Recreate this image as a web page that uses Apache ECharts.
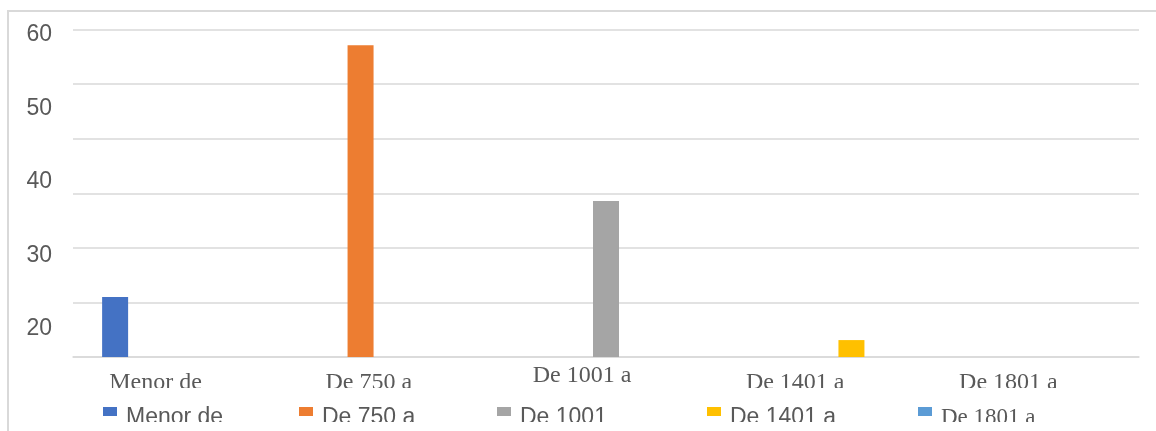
<!DOCTYPE html>
<html>
<head>
<meta charset="utf-8">
<script src="https://cdn.jsdelivr.net/npm/echarts@6/dist/echarts.min.js"></script>
<style>
  html, body { margin: 0; padding: 0; background: #ffffff; }
  #wrap { position: relative; width: 1156px; height: 431px; overflow: hidden; background: #ffffff; }
  #frame { position: absolute; left: 7px; top: 10px; width: 1160px; height: 440px;
           border-top: 2px solid #D9D9D9; border-left: 2px solid #D9D9D9; box-sizing: border-box; }
  #plot { position: absolute; left: 0; top: 0; width: 1156px; height: 388px; }
  #legendArea { position: absolute; left: 0; top: 0; width: 1156px; height: 422px; pointer-events: none; }
</style>
</head>
<body>
<div id="wrap">
  <div id="frame"></div>
  <div id="plot"></div>
  <div id="legendArea"></div>
</div>
<script>
// ---- data ----
const categories = ['Menor de', 'De 750 a', 'De 1001 a', 'De 1401 a', 'De 1801 a'];
const seriesNames = ['Menor de', 'De 750 a', 'De 1001', 'De 1401 a', 'De 1801 a'];
const seriesValues = [11.0, 57.1, 28.6, 3.1, 0];
const gridTicks = [0, 10, 20, 30, 40, 50, 60];
const yTickLabels = [20, 30, 40, 50, 60];

// ---- styling ----
const palette = ['#4472C4', '#ED7D31', '#A5A5A5', '#FFC000', '#5B9BD5'];
const gridColor = '#D9D9D9';
const textColor = '#595959';
const raisedLabel = 2;
const legendLefts = [103, 299, 497, 707, 918];
// 14x9 swatch sitting at the top of a 14x21 box, so the text sits lower than the swatch
const legendIcon = 'path://M0,0H14V9H0ZM0,21H14V21H0Z';

const plot = echarts.init(document.getElementById('plot'), null, { renderer: 'canvas' });

const series = seriesNames.map((name, i) => ({
  name: name,
  type: 'bar',
  xAxisIndex: 0,
  yAxisIndex: 0,
  barWidth: 26,
  barGap: '24%',
  itemStyle: { color: palette[i] },
  data: categories.map((c, j) => (j === i ? seriesValues[i] : null))
}));

plot.setOption({
  animation: false,
  color: palette,
  grid: [
    { left: 73, right: 17, top: 29.5, bottom: 31, outerBoundsMode: 'none', containLabel: false },
    { left: 73, right: 17, top: 35, bottom: 59.3, outerBoundsMode: 'none', containLabel: false }
  ],
  xAxis: [
    {
      type: 'category',
      gridIndex: 0,
      data: categories.map((c, i) => ({
        value: c,
        textStyle: { padding: i === raisedLabel ? [0, 48, 0, 0] : [7, 48, 0, 0] }
      })),
      axisLine: { show: true, lineStyle: { color: gridColor, width: 1.5 } },
      axisTick: { show: false },
      axisLabel: {
        interval: 0,
        margin: 7,
        color: textColor,
        fontFamily: 'Liberation Serif',
        fontSize: 24
      }
    },
    { type: 'category', gridIndex: 1, show: false, data: categories }
  ],
  yAxis: [
    {
      type: 'value',
      gridIndex: 0,
      min: gridTicks[0],
      max: gridTicks[gridTicks.length - 1],
      interval: gridTicks[1] - gridTicks[0],
      axisLabel: { show: false },
      axisLine: { show: false },
      axisTick: { show: false },
      splitLine: { show: true, lineStyle: { color: gridColor, width: 1.5 } }
    },
    {
      type: 'value',
      gridIndex: 1,
      min: yTickLabels[0],
      max: yTickLabels[yTickLabels.length - 1],
      interval: yTickLabels[1] - yTickLabels[0],
      axisLabel: {
        show: true,
        margin: 21,
        color: textColor,
        fontFamily: 'Liberation Sans',
        fontSize: 23
      },
      axisLine: { show: false },
      axisTick: { show: false },
      splitLine: { show: false }
    }
  ],
  series: series
});

// ---- legend layer (clipped at the bottom like the reference) ----
const legendChart = echarts.init(document.getElementById('legendArea'), null, { renderer: 'canvas' });
legendChart.setOption({
  animation: false,
  color: palette,
  grid: { show: false, left: 0, right: 0, top: 0, bottom: 0 },
  xAxis: { type: 'category', show: false, data: categories },
  yAxis: { type: 'value', show: false },
  legend: seriesNames.map((name, i) => ({
    data: [name],
    left: legendLefts[i],
    top: 406,
    padding: 0,
    icon: legendIcon,
    itemWidth: 14,
    itemHeight: 21,
    itemGap: 0,
    selectedMode: false,
    itemStyle: { borderWidth: 0 },
    textStyle: {
      color: textColor,
      fontFamily: i === seriesNames.length - 1 ? 'Liberation Serif' : 'Liberation Sans',
      fontSize: 23,
      padding: [0, 0, 0, 4]
    }
  })),
  series: seriesNames.map((name, i) => ({
    name: name,
    type: 'bar',
    itemStyle: { color: palette[i] },
    data: []
  }))
});
</script>
</body>
</html>
